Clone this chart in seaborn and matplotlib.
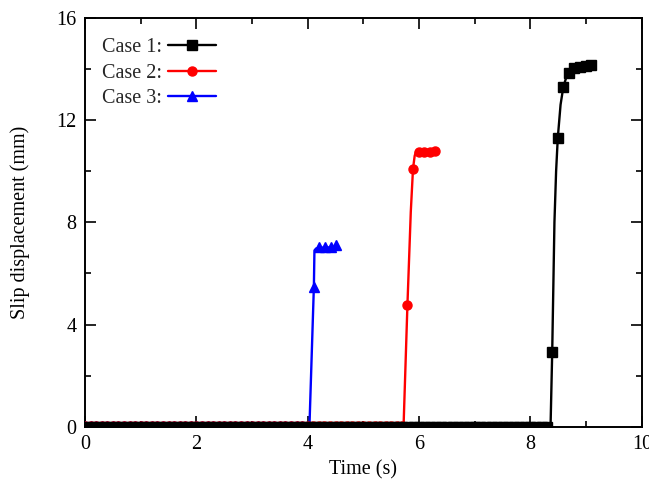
import matplotlib
matplotlib.use("Agg")
import matplotlib.pyplot as plt
from matplotlib.lines import Line2D
from matplotlib.ticker import MultipleLocator
import seaborn as sns

# ---------------- data ----------------
labels = ["Case 1:", "Case 2:", "Case 3:"]
colors = ["#000000", "#ff0000", "#0000ff"]
markers = ["s", "o", "^"]

# sampled (marker) points
case1_t = [0.0, 0.1, 0.2, 0.3, 0.4, 0.5, 0.6, 0.7, 0.8, 0.9,
           1.0, 1.1, 1.2, 1.3, 1.4, 1.5, 1.6, 1.7, 1.8, 1.9,
           2.0, 2.1, 2.2, 2.3, 2.4, 2.5, 2.6, 2.7, 2.8, 2.9,
           3.0, 3.1, 3.2, 3.3, 3.4, 3.5, 3.6, 3.7, 3.8, 3.9,
           4.0, 4.1, 4.2, 4.3, 4.4, 4.5, 4.6, 4.7, 4.8, 4.9,
           5.0, 5.1, 5.2, 5.3, 5.4, 5.5, 5.6, 5.7, 5.8, 5.9,
           6.0, 6.1, 6.2, 6.3, 6.4, 6.5, 6.6, 6.7, 6.8, 6.9,
           7.0, 7.1, 7.2, 7.3, 7.4, 7.5, 7.6, 7.7, 7.8, 7.9,
           8.0, 8.1, 8.2, 8.3,
           8.39, 8.49, 8.59, 8.69, 8.79, 8.89, 8.99, 9.09]
case1_y = [0.0, 0.0, 0.0, 0.0, 0.0, 0.0, 0.0, 0.0, 0.0, 0.0,
           0.0, 0.0, 0.0, 0.0, 0.0, 0.0, 0.0, 0.0, 0.0, 0.0,
           0.0, 0.0, 0.0, 0.0, 0.0, 0.0, 0.0, 0.0, 0.0, 0.0,
           0.0, 0.0, 0.0, 0.0, 0.0, 0.0, 0.0, 0.0, 0.0, 0.0,
           0.0, 0.0, 0.0, 0.0, 0.0, 0.0, 0.0, 0.0, 0.0, 0.0,
           0.0, 0.0, 0.0, 0.0, 0.0, 0.0, 0.0, 0.0, 0.0, 0.0,
           0.0, 0.0, 0.0, 0.0, 0.0, 0.0, 0.0, 0.0, 0.0, 0.0,
           0.0, 0.0, 0.0, 0.0, 0.0, 0.0, 0.0, 0.0, 0.0, 0.0,
           0.0, 0.0, 0.0, 0.0,
           2.93, 11.3, 13.3, 13.85, 14.02, 14.08, 14.12, 14.16]

case2_t = [0.0, 0.1, 0.2, 0.3, 0.4, 0.5, 0.6, 0.7, 0.8, 0.9,
           1.0, 1.1, 1.2, 1.3, 1.4, 1.5, 1.6, 1.7, 1.8, 1.9,
           2.0, 2.1, 2.2, 2.3, 2.4, 2.5, 2.6, 2.7, 2.8, 2.9,
           3.0, 3.1, 3.2, 3.3, 3.4, 3.5, 3.6, 3.7, 3.8, 3.9,
           4.0, 4.1, 4.2, 4.3, 4.4, 4.5, 4.6, 4.7, 4.8, 4.9,
           5.0, 5.1, 5.2, 5.3, 5.4, 5.5, 5.6, 5.7,
           5.79, 5.89, 5.99, 6.09, 6.19, 6.29]
case2_y = [0.05, 0.05, 0.05, 0.05, 0.05, 0.05, 0.05, 0.05, 0.05, 0.05,
           0.05, 0.05, 0.05, 0.05, 0.05, 0.05, 0.05, 0.05, 0.05, 0.05,
           0.05, 0.05, 0.05, 0.05, 0.05, 0.05, 0.05, 0.05, 0.05, 0.05,
           0.05, 0.05, 0.05, 0.05, 0.05, 0.05, 0.05, 0.05, 0.05, 0.05,
           0.05, 0.05, 0.05, 0.05, 0.05, 0.05, 0.05, 0.05, 0.05, 0.05,
           0.05, 0.05, 0.05, 0.05, 0.05, 0.05, 0.05, 0.05,
           4.77, 10.09, 10.76, 10.77, 10.77, 10.79]

case3_t = [0.0, 0.1, 0.2, 0.3, 0.4, 0.5, 0.6, 0.7, 0.8, 0.9,
           1.0, 1.1, 1.2, 1.3, 1.4, 1.5, 1.6, 1.7, 1.8, 1.9,
           2.0, 2.1, 2.2, 2.3, 2.4, 2.5, 2.6, 2.7, 2.8, 2.9,
           3.0, 3.1, 3.2, 3.3, 3.4, 3.5, 3.6, 3.7, 3.8, 3.9,
           4.0,
           4.11, 4.21, 4.31, 4.41, 4.51]
case3_y = [0.05, 0.05, 0.05, 0.05, 0.05, 0.05, 0.05, 0.05, 0.05, 0.05,
           0.05, 0.05, 0.05, 0.05, 0.05, 0.05, 0.05, 0.05, 0.05, 0.05,
           0.05, 0.05, 0.05, 0.05, 0.05, 0.05, 0.05, 0.05, 0.05, 0.05,
           0.05, 0.05, 0.05, 0.05, 0.05, 0.05, 0.05, 0.05, 0.05, 0.05,
           0.05,
           5.49, 7.02, 7.05, 7.04, 7.1]

# continuous curves
case1_line_t = [0.0, 8.36, 8.39, 8.43, 8.46, 8.49, 8.54, 8.59, 8.64, 8.69, 8.79, 8.89, 8.99, 9.09]
case1_line_y = [0.0, 0.0, 2.93, 8.0, 10.0, 11.3, 12.6, 13.3, 13.65, 13.85, 14.02, 14.08, 14.12, 14.16]
case2_line_t = [0.0, 5.72, 5.79, 5.85, 5.89, 5.92, 5.94, 5.99, 6.09, 6.19, 6.29]
case2_line_y = [0.0, 0.0, 4.77, 8.4, 10.09, 10.6, 10.74, 10.76, 10.77, 10.77, 10.79]
case3_line_t = [0.0, 4.03, 4.11, 4.12, 4.15, 4.21, 4.31, 4.41, 4.51]
case3_line_y = [0.0, 0.0, 5.49, 6.9, 6.98, 7.0, 7.02, 7.02, 7.06]

xticks = [0, 2, 4, 6, 8, 10]
yticks = [0, 4, 8, 12, 16]

# ---------------- plot ----------------
sns.set_theme(style="ticks")
plt.rcParams["font.family"] = ["Liberation Serif", "DejaVu Serif"]

fig = plt.figure(figsize=(6.49, 4.93), dpi=100)
ax = fig.add_axes([0.131, 0.134, 0.858, 0.830])

series = [
    (case1_t, case1_y, case1_line_t, case1_line_y, 6.5, 5),
    (case2_t, case2_y, case2_line_t, case2_line_y, 6.5, 4),
    (case3_t, case3_y, case3_line_t, case3_line_y, 7.0, 3),
]
# draw case 3 first, then case 2, then case 1 on top
for i in [2, 1, 0]:
    t, y, lt, ly, ms, z = series[i]
    sns.lineplot(x=lt, y=ly, ax=ax, color=colors[i], lw=1.7, sort=False,
                 estimator=None, zorder=z)
    ax.plot(t, y, ls="none", marker=markers[i], ms=ms, color=colors[i],
            mec=colors[i], zorder=z + 0.5)

ax.set_xlim(0, 10)
ax.set_ylim(0, 16)
ax.set_xticks(xticks)
ax.set_yticks(yticks)
ax.set_xticklabels([str(v) for v in xticks])
ax.set_yticklabels([str(v) for v in yticks])
ax.xaxis.set_minor_locator(MultipleLocator(1))
ax.yaxis.set_minor_locator(MultipleLocator(2))
ax.tick_params(which="both", direction="in", top=True, right=True,
               labelsize=14.5, color="black", labelcolor="black", width=1.2)
ax.tick_params(which="major", length=8, pad=6)
ax.tick_params(which="minor", length=4)
for s in ax.spines.values():
    s.set_linewidth(1.4)
    s.set_color("black")

ax.set_xlabel("Time (s)", fontsize=14.5, labelpad=4, color="black")
ax.set_ylabel("Slip displacement (mm)", fontsize=14.5, labelpad=19, color="black")

handles = [Line2D([0], [0], color=colors[i], lw=1.7, marker=markers[i],
                  ms=7 if i == 2 else 6.5) for i in range(3)]
ax.legend(handles, labels, loc="upper left", frameon=False, markerfirst=False,
          fontsize=14.5, handlelength=2.4, labelspacing=0.32, handletextpad=0.3,
          borderaxespad=0.3, bbox_to_anchor=(0.005, 0.985))

fig.savefig("out.png", dpi=100)
